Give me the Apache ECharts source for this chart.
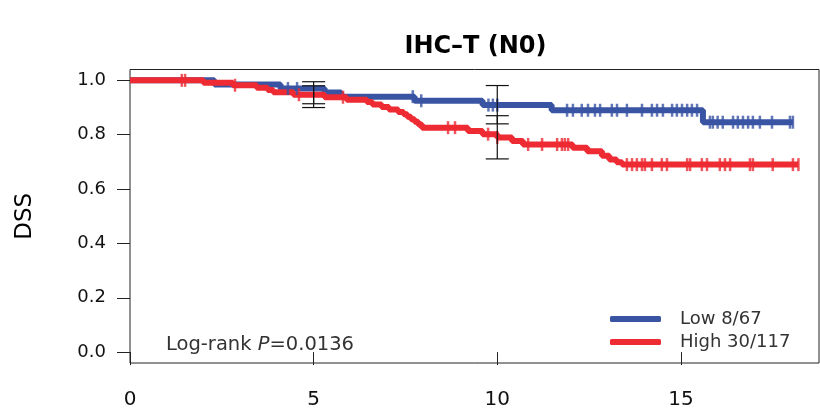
<!DOCTYPE html>
<html><head><meta charset="utf-8">
<script src="https://cdn.jsdelivr.net/npm/echarts@6/dist/echarts.min.js"></script>
<style>html,body{margin:0;padding:0;background:#fff}#c{width:820px;height:411px}</style>
</head><body><div id="c"></div>
<script>
const titleText = 'IHC–T (N0)';
const yName = 'DSS';
const xTicks = [0, 5, 10, 15];
const yTicks = [0, 0.2, 0.4, 0.6, 0.8, 1.0];
const lowName = 'Low 8/67';
const highName = 'High 30/117';
const pPrefix = 'Log-rank ';
const pVar = 'P';
const pValue = '=0.0136';

const lowTimes = [0, 2.3, 4.1, 5.3, 5.75, 7.75, 9.6, 11.48, 15.6, 18.05];
const lowSurv  = [1, 0.985, 0.970, 0.955, 0.940, 0.925, 0.909, 0.890, 0.846, 0.846];
const lowCensor = [4.3, 4.55, 7.7, 7.93, 9.76, 9.88, 10.0, 11.9, 12.06, 12.3, 12.47, 12.66, 12.8,
  13.12, 13.26, 13.53, 13.94, 14.21, 14.35, 14.51, 14.76, 14.89, 15.03, 15.17, 15.3, 15.44,
  15.79, 15.87, 16.0, 16.14, 16.42, 16.55, 16.69, 16.83, 16.96, 17.15, 17.48, 17.97, 18.05];

const highTimes = [0, 2.0, 2.8, 3.45, 3.75, 3.9, 4.45, 5.3, 5.9, 6.45, 6.6, 6.85, 7.05, 7.3, 7.45,
  7.55, 7.65, 7.75, 7.85, 7.95, 9.2, 9.6, 10.0, 10.4, 10.7, 12.05, 12.45, 12.85, 13.05, 13.25, 13.4, 18.2];
const highSurv = [1, 0.991, 0.982, 0.973, 0.965, 0.956, 0.947, 0.938, 0.929, 0.920, 0.911, 0.902, 0.893,
  0.884, 0.875, 0.866, 0.857, 0.848, 0.838, 0.826, 0.814, 0.802, 0.790, 0.777, 0.764, 0.752, 0.739,
  0.723, 0.709, 0.699, 0.690, 0.690];
const highCensor = [1.41, 1.5, 2.86, 4.6, 5.8, 8.66, 8.85, 9.75, 10.0, 10.84, 11.22, 11.63, 11.76,
  11.84, 11.93, 13.53, 13.67, 13.8, 13.94, 14.02, 14.21, 14.48, 14.62, 15.17, 15.25, 15.57, 15.71,
  16.06, 16.2, 16.34, 16.88, 16.96, 17.5, 18.05, 18.2];

// [time, lower, upper]
const lowCI = [[5, 0.914, 0.995], [10, 0.84, 0.981]];
const highCI = [[5, 0.90, 0.98], [10, 0.711, 0.87]];

const lowColor = '#3a54a4';
const highColor = '#ee2a33';
const FONT = 'DejaVu Sans';

function pairs(t, s) { return t.map((v, i) => [v, s[i]]); }
function survAt(t, s, x) { let v = s[0]; for (let i = 0; i < t.length; i++) { if (t[i] <= x) v = s[i]; else break; } return v; }
function censorPts(c, t, s) { return c.map(x => [x, survAt(t, s, x)]); }

function ciRender(params, api) {
  const lo = api.coord([api.value(0), api.value(1)]);
  const hi = api.coord([api.value(0), api.value(2)]);
  const hw = 11.5;
  const st = { stroke: '#111', lineWidth: 1.2 };
  return { type: 'group', children: [
    { type: 'line', shape: { x1: lo[0], y1: lo[1], x2: hi[0], y2: hi[1] }, style: st },
    { type: 'line', shape: { x1: lo[0] - hw, y1: lo[1], x2: lo[0] + hw, y2: lo[1] }, style: st },
    { type: 'line', shape: { x1: hi[0] - hw, y1: hi[1], x2: hi[0] + hw, y2: hi[1] }, style: st }
  ]};
}

const chart = echarts.init(document.getElementById('c'), null, { renderer: 'canvas' });
chart.setOption({
  animation: false,
  backgroundColor: '#fff',
  title: {
    text: titleText, left: 475.5, top: 34.5, textAlign: 'center', padding: 0,
    textStyle: { fontFamily: FONT, fontWeight: 'bold', fontSize: 24, color: '#000', lineHeight: 24 }
  },
  grid: { left: 130, right: 1, top: 69.5, bottom: 48, show: true, borderColor: '#222', borderWidth: 1, outerBoundsMode: 'none', containLabel: false },
  xAxis: {
    type: 'value', min: 0, max: 18.76,
    axisLine: { show: false },
    axisTick: { show: true, length: 13, lineStyle: { color: '#222', width: 1 }, customValues: xTicks },
    axisLabel: { customValues: xTicks, margin: 27, fontFamily: FONT, fontSize: 20, color: '#111', lineHeight: 20 },
    splitLine: { show: false }
  },
  yAxis: {
    type: 'value', min: -0.04, max: 1.04,
    name: yName, nameLocation: 'middle', nameRotate: 90, nameGap: 93,
    nameTextStyle: { fontFamily: FONT, fontSize: 23, color: '#000', lineHeight: 23 },
    axisLine: { show: false },
    axisTick: { show: true, length: 13, lineStyle: { color: '#222', width: 1 }, customValues: yTicks },
    axisLabel: { customValues: yTicks, margin: 24, fontFamily: FONT, fontSize: 18, color: '#111', formatter: v => v.toFixed(1) },
    splitLine: { show: false }
  },
  legend: {
    data: [lowName, highName], orient: 'vertical', left: 610, top: 310, padding: 0,
    icon: 'roundRect', itemWidth: 51, itemHeight: 6, itemGap: 5, selectedMode: false,
    textStyle: { fontFamily: FONT, fontSize: 18, color: '#333', lineHeight: 18, padding: [0, 0, 0, 14] }
  },
  graphic: [{
    type: 'text', x: 166, y: 345, silent: true,
    style: {
      text: pPrefix + '{i|' + pVar + '}' + pValue,
      rich: { i: { fontStyle: 'italic', fontFamily: FONT, fontSize: 19.5, fill: '#333' } },
      fontFamily: FONT, fontSize: 19.5, fill: '#333',
      verticalAlign: 'middle', textVerticalAlign: 'middle', align: 'left'
    }
  }],
  series: [
    { name: lowName, type: 'line', step: 'end', data: pairs(lowTimes, lowSurv), symbol: 'none', showSymbol: false,
      lineStyle: { width: 6, color: lowColor }, itemStyle: { color: lowColor }, z: 3, silent: true },
    { name: highName, type: 'line', step: 'end', data: pairs(highTimes, highSurv), symbol: 'none', showSymbol: false,
      lineStyle: { width: 6, color: highColor }, itemStyle: { color: highColor }, z: 4, silent: true },
    { name: 'lowC', type: 'scatter', data: censorPts(lowCensor, lowTimes, lowSurv), symbol: 'rect', symbolSize: [2.5, 13],
      itemStyle: { color: lowColor }, z: 5, silent: true },
    { name: 'highC', type: 'scatter', data: censorPts(highCensor, highTimes, highSurv), symbol: 'rect', symbolSize: [2.5, 13],
      itemStyle: { color: highColor }, z: 6, silent: true },
    { name: 'lowCI', type: 'custom', data: lowCI, renderItem: ciRender, z: 10, silent: true },
    { name: 'highCI', type: 'custom', data: highCI, renderItem: ciRender, z: 10, silent: true }
  ]
});
</script></body></html>
